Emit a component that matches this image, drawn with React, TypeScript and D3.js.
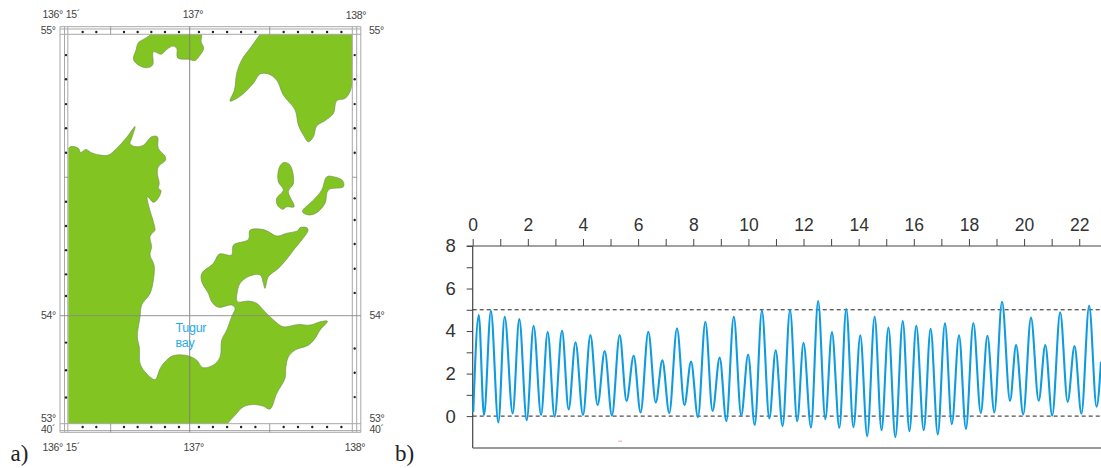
import React, { useEffect, useRef } from "react";
import * as d3 from "d3";

// panel b: turning points of the water level
const hours = [
  0.02, 0.22, 0.41, 0.66, 0.93, 1.16, 1.45, 1.69, 1.96, 2.21, 2.48, 2.72, 2.97, 3.24, 3.48, 3.73, 4.0, 4.27, 4.53, 4.79,
  5.05, 5.33, 5.58, 5.84, 6.09, 6.37, 6.64, 6.88, 7.13, 7.41, 7.68, 7.92, 8.17, 8.44, 8.7, 8.96, 9.2, 9.47, 9.74, 9.99,
  10.23, 10.49, 10.76, 10.99, 11.24, 11.51, 11.77, 12.0, 12.27, 12.53, 12.79, 13.03, 13.3, 13.55, 13.81, 14.06, 14.31,
  14.58, 14.83, 15.08, 15.33, 15.6, 15.84, 16.09, 16.36, 16.61, 16.87, 17.13, 17.38, 17.64, 17.89, 18.16, 18.43, 18.67,
  18.92, 19.2, 19.49, 19.71, 19.97, 20.25, 20.53, 20.77, 21.02, 21.31, 21.58, 21.83, 22.08, 22.36, 22.63, 22.79,
];
const levels = [
  0.2, 4.75, 0.05, 4.95, -0.3, 4.67, 0.12, 4.56, -0.19, 4.25, 0.05, 3.97, -0.03, 4.02, 0.31, 3.47, 0.05, 3.81, 0.52, 3.06,
  0.02, 3.81, 0.71, 2.84, 0.17, 3.97, 0.64, 2.62, 0.14, 4.13, 0.52, 2.56, -0.05, 4.44, 0.24, 2.75, -0.24, 4.67, 0.02, 2.9,
  -0.42, 4.97, -0.11, 3.1, -0.47, 4.99, -0.24, 3.45, -0.53, 5.41, -0.14, 3.95, -0.55, 5.04, -0.52, 3.8, -0.94,
  4.67, -0.66, 4.17, -0.99, 4.47, -0.71, 4.25, -0.66, 4.11, -0.86, 4.36, -0.38, 3.8, -0.6, 4.38, 0.14, 3.78,
  0.17, 5.38, 0.72, 3.34, 0.08, 4.63, 0.72, 3.34, 0.02, 4.88, 0.67, 3.29, 0.11, 5.19, 0.44, 2.56,
];
const hourTicks = d3.range(0, 23);
const levelTicks = d3.range(0, 9);
const dashedLevels = [0, 5];

// panel a: coast outlines as [lon, lat], the points past the sheet edge get clipped off
const northIsland: [number, number][] = [
  [136.76, 55], [136.8, 55.03], [137.05, 55.03], [137.074, 55], [137.07, 54.974], [137.086, 54.95], [137.064, 54.926], [137.033, 54.907], [136.992, 54.911],
  [136.926, 54.916], [136.92, 54.95], [136.895, 54.958], [136.859, 54.946], [136.824, 54.929], [136.777, 54.938],
  [136.772, 54.891], [136.736, 54.881], [136.684, 54.891], [136.654, 54.911], [136.67, 54.944], [136.684, 54.97], [136.736, 54.989],
];
const northEastLand: [number, number][] = [
  [137.433, 55], [137.47, 55.03], [138.03, 55.03], [138.03, 54.9], [138, 54.826], [137.986, 54.796], [137.955, 54.772], [137.904, 54.764], [137.884, 54.719],
  [137.832, 54.693], [137.781, 54.674], [137.761, 54.636], [137.73, 54.618], [137.699, 54.642], [137.668, 54.678],
  [137.648, 54.731], [137.576, 54.784], [137.535, 54.837], [137.484, 54.859], [137.433, 54.859], [137.392, 54.826],
  [137.32, 54.784], [137.269, 54.766], [137.248, 54.763], [137.275, 54.802], [137.289, 54.861], [137.32, 54.909], [137.371, 54.95],
];
const smallIsland: [number, number][] = [
  [137.576, 54.544], [137.607, 54.541], [137.627, 54.524], [137.638, 54.47], [137.607, 54.441], [137.642, 54.387],
  [137.597, 54.387], [137.572, 54.378], [137.539, 54.393], [137.535, 54.417], [137.576, 54.447], [137.545, 54.476], [137.549, 54.524],
];
const eastIsland: [number, number][] = [
  [137.843, 54.494], [137.884, 54.494], [137.941, 54.48], [137.945, 54.458], [137.853, 54.447], [137.832, 54.399],
  [137.781, 54.366], [137.73, 54.358], [137.693, 54.37], [137.761, 54.411], [137.812, 54.447],
];
const mainLand: [number, number][] = [
  [136.27, 54.601], [136.315, 54.595], [136.33, 54.58], [136.362, 54.591], [136.397, 54.579], [136.449, 54.571], [136.5, 54.571],
  [136.551, 54.595], [136.613, 54.634], [136.664, 54.672], [136.643, 54.63], [136.633, 54.612], [136.664, 54.601], [136.715, 54.606],
  [136.766, 54.636], [136.801, 54.636], [136.807, 54.595], [136.848, 54.567], [136.852, 54.553], [136.807, 54.529], [136.801, 54.506],
  [136.813, 54.47], [136.807, 54.453], [136.824, 54.444], [136.801, 54.413], [136.777, 54.403], [136.74, 54.423], [136.752, 54.381],
  [136.777, 54.334], [136.787, 54.304], [136.783, 54.301], [136.756, 54.281], [136.766, 54.245], [136.756, 54.216], [136.781, 54.18],
  [136.777, 54.127], [136.756, 54.079], [136.705, 54.038], [136.695, 53.997], [136.678, 53.935], [136.69, 53.904], [136.695, 53.853],
  [136.725, 53.827], [136.787, 53.803], [136.818, 53.837], [136.848, 53.858], [136.9, 53.877], [136.982, 53.877], [137.043, 53.863],
  [137.08, 53.84], [137.146, 53.848], [137.187, 53.873], [137.197, 53.925], [137.228, 53.956], [137.258, 53.997], [137.279, 54.026],
  [137.258, 54.038], [137.176, 54.03], [137.135, 54.05], [137.115, 54.079], [137.074, 54.121], [137.074, 54.15], [137.146, 54.186],
  [137.182, 54.219], [137.258, 54.216], [137.269, 54.251], [137.361, 54.271], [137.371, 54.304], [137.443, 54.307], [137.484, 54.299],
  [137.535, 54.283], [137.597, 54.293], [137.664, 54.302], [137.679, 54.313], [137.72, 54.313], [137.728, 54.304], [137.689, 54.269],
  [137.638, 54.233], [137.601, 54.204], [137.545, 54.168], [137.484, 54.139], [137.463, 54.097], [137.453, 54.115], [137.433, 54.145],
  [137.361, 54.139], [137.31, 54.115], [137.293, 54.085], [137.293, 54.05], [137.361, 54.052], [137.412, 54.044], [137.453, 54.02],
  [137.515, 53.987], [137.576, 53.966], [137.668, 53.973], [137.74, 53.971], [137.802, 53.981], [137.847, 53.983], [137.802, 53.956],
  [137.771, 53.93], [137.73, 53.909], [137.648, 53.894], [137.607, 53.873], [137.592, 53.843], [137.586, 53.807], [137.535, 53.76],
  [137.494, 53.712], [137.453, 53.721], [137.392, 53.726], [137.33, 53.719], [137.279, 53.693], [137.232, 53.667], [137.2, 53.64],
  [136.23, 53.64], [136.23, 54.4], [136.24, 54.58],
];
const coasts = [mainLand, northIsland, northEastLand, smallIsland, eastIsland];

const lonEdges = [136.25, 137, 138];
const latEdges = [53.667, 54, 55];
const lonMarks = [136.514, 137.492];
const latMarks = [54.492];
const lonDots = [
  136.342, 136.426, 136.596, 136.68, 136.764, 136.848, 136.934, 137.057, 137.143, 137.23, 137.316, 137.404, 137.578, 137.666,
  137.754, 137.845, 137.933,
];
const latDotsLeft = [54.926, 54.84, 54.752, 54.666, 54.579, 54.405, 54.319, 54.233, 54.147, 54.07, 53.917, 53.832, 53.748];
const latDotsRight = [54.926, 54.84, 54.752, 54.666, 54.579, 54.417, 54.34, 54.255, 54.167, 54.081, 53.899, 53.824, 53.749];

const mapFont = "'Liberation Sans', Arial, sans-serif";
const frameColor = "#a8a8a8";

function drawMap(svg: d3.Selection<SVGSVGElement, unknown, null, undefined>) {
  const lonScale = d3.scaleLinear().domain(lonEdges).range([67.7, 189.7, 352.3]);
  const latScale = d3.scaleLinear().domain(latEdges).range([423.7, 315.7, 34.3]);
  const left = lonScale(136.25) + 0.6;
  const right = lonScale(138);
  const top = latScale(55);
  const bottom = latScale(53.667);

  const g = svg.append("g");

  svg.append("clipPath").attr("id", "map-clip").append("rect")
    .attr("x", left).attr("y", top).attr("width", right - left).attr("height", bottom - top);

  const coastLine = d3.line<[number, number]>()
    .x((d) => lonScale(d[0]))
    .y((d) => latScale(d[1]))
    .curve(d3.curveCatmullRomClosed.alpha(0.5));

  g.append("g").attr("clip-path", "url(#map-clip)")
    .selectAll("path").data(coasts).join("path")
    .attr("d", (d) => coastLine(d))
    .attr("fill", "#82c421")
    .attr("stroke", "#6f8f55")
    .attr("stroke-width", 0.6);

  // frame lines
  const hLines = [26.7, 29, top, bottom, 430.6, 432.3];
  const vLines = [60, 64.5, left - 0.5, right, 356.7, 360.8];
  g.selectAll(".h-frame").data(hLines).join("line")
    .attr("class", "h-frame")
    .attr("x1", 60).attr("x2", 360.8)
    .attr("y1", (d) => d).attr("y2", (d) => d)
    .attr("stroke", frameColor).attr("stroke-width", 1);
  g.selectAll(".v-frame").data(vLines).join("line")
    .attr("class", "v-frame")
    .attr("y1", 26.7).attr("y2", 432.3)
    .attr("x1", (d) => d).attr("x2", (d) => d)
    .attr("stroke", frameColor).attr("stroke-width", 1);

  // graticule through 137 and 54
  g.append("line").attr("x1", lonScale(137)).attr("x2", lonScale(137)).attr("y1", 26.7).attr("y2", 432.3)
    .attr("stroke", "#7d7d7d").attr("stroke-width", 0.9);
  g.append("line").attr("x1", 60).attr("x2", 360.8).attr("y1", latScale(54)).attr("y2", latScale(54))
    .attr("stroke", "#8a8a8a").attr("stroke-width", 0.9);

  // half degree marks in the frame
  lonMarks.forEach((lon) => {
    [[26.7, top], [bottom, 432.3]].forEach(([a, b]) => {
      g.append("line").attr("x1", lonScale(lon)).attr("x2", lonScale(lon)).attr("y1", a).attr("y2", b)
        .attr("stroke", "#777").attr("stroke-width", 0.7);
    });
  });
  latMarks.forEach((lat) => {
    [[64.5, left], [right, 356.7]].forEach(([a, b]) => {
      g.append("line").attr("x1", a).attr("x2", b).attr("y1", latScale(lat)).attr("y2", latScale(lat))
        .attr("stroke", "#777").attr("stroke-width", 0.7);
    });
  });

  // minute dots
  const dotColor = "#222";
  [32, 427].forEach((y) => {
    g.append("g").selectAll("circle").data(lonDots).join("circle")
      .attr("cx", (d) => lonScale(d)).attr("cy", y).attr("r", 1.2).attr("fill", dotColor);
  });
  g.append("g").selectAll("circle").data(latDotsLeft).join("circle")
    .attr("cx", 66).attr("cy", (d) => latScale(d)).attr("r", 1.2).attr("fill", dotColor);
  g.append("g").selectAll("circle").data(latDotsRight).join("circle")
    .attr("cx", 354.7).attr("cy", (d) => latScale(d)).attr("r", 1.2).attr("fill", dotColor);

  // corner labels
  const labels: [string, number, number, string?][] = [
    ["136° 15´", 42.5, 17.5, "start"],
    ["137°", 193, 17.5, "middle"],
    ["138°", 356, 18.5, "middle"],
    ["136° 15´", 42.5, 451, "start"],
    ["137°", 193.7, 451, "middle"],
    ["138°", 355, 451, "middle"],
    ["55°", 40.7, 34, "start"],
    ["55°", 369, 34, "start"],
    ["54°", 41, 318.5, "start"],
    ["54°", 369.5, 318.5, "start"],
    ["53°", 41, 421.5, "start"],
    ["53°", 369.5, 421.5, "start"],
    ["40´", 41, 433, "start"],
    ["40´", 369.5, 433, "start"],
  ];
  g.append("g").selectAll("text").data(labels).join("text")
    .attr("x", (d) => d[1]).attr("y", (d) => d[2])
    .attr("text-anchor", (d) => d[3] || "start")
    .attr("font-family", mapFont).attr("font-size", 10.5).attr("letter-spacing", -0.3).attr("fill", "#444")
    .text((d) => d[0]);

  g.append("text").attr("x", 175.5).attr("y", 332).attr("font-family", mapFont).attr("font-size", 12.5)
    .attr("letter-spacing", -0.3).attr("fill", "#29abe2").text("Tugur");
  g.append("text").attr("x", 175.5).attr("y", 346.5).attr("font-family", mapFont).attr("font-size", 12.5)
    .attr("letter-spacing", -0.3).attr("fill", "#29abe2").text("вay");

  g.append("text").attr("x", 10.5).attr("y", 461).attr("font-family", "'Liberation Serif', serif")
    .attr("font-size", 23).attr("fill", "#222").text("a)");
}

function drawLevels(svg: d3.Selection<SVGSVGElement, unknown, null, undefined>) {
  const x = d3.scaleLinear().domain([0, 22.79]).range([472.7, 1101]);
  const y = d3.scaleLinear().domain([-1.5, 8]).range([448, 246]);
  const g = svg.append("g");
  const axisColor = "#444";
  const labelColor = "#333";

  const topAxis = g.append("g").attr("transform", `translate(0,${y(8)})`)
    .call(
      d3.axisTop(x).tickValues(hourTicks).tickSize(7).tickPadding(8)
        .tickFormat((d) => (Number(d) % 2 === 0 ? String(d) : ""))
    );
  topAxis.select(".domain").remove();
  topAxis.selectAll("line").attr("stroke", axisColor);
  topAxis.selectAll("text").attr("font-family", mapFont).attr("font-size", 17.5).attr("fill", labelColor);

  const leftAxis = g.append("g").attr("transform", `translate(${x(0)},0)`)
    .call(
      d3.axisLeft(y).tickValues(levelTicks).tickSize(6).tickPadding(11)
        .tickFormat((d) => (Number(d) % 2 === 0 ? String(d) : ""))
    );
  leftAxis.select(".domain").remove();
  leftAxis.selectAll("line").attr("stroke", axisColor);
  leftAxis.selectAll("text").attr("font-family", mapFont).attr("font-size", 18.5).attr("fill", labelColor);

  g.append("line").attr("x1", x(0) - 6).attr("x2", 1101).attr("y1", y(8)).attr("y2", y(8))
    .attr("stroke", axisColor).attr("stroke-width", 1.2);
  g.append("line").attr("x1", x(0)).attr("x2", x(0)).attr("y1", y(8)).attr("y2", y(-1.5))
    .attr("stroke", axisColor).attr("stroke-width", 1.2);
  g.append("line").attr("x1", x(0)).attr("x2", 1101).attr("y1", y(-1.5)).attr("y2", y(-1.5))
    .attr("stroke", "#777").attr("stroke-width", 1.4);

  g.selectAll(".ref").data(dashedLevels).join("line")
    .attr("class", "ref")
    .attr("x1", x(0)).attr("x2", 1101)
    .attr("y1", (d) => y(d)).attr("y2", (d) => y(d))
    .attr("stroke", "#222").attr("stroke-width", 1).attr("stroke-dasharray", "4 3");

  const curve = d3.line<number>()
    .x((_, i) => x(hours[i]))
    .y((d) => y(d))
    .curve(d3.curveMonotoneX);

  g.append("path").attr("d", curve(levels))
    .attr("fill", "none").attr("stroke", "#0f9be0").attr("stroke-width", 2.1);

  // stray mark in the scan
  g.append("line").attr("x1", x(5.28)).attr("x2", x(5.42)).attr("y1", y(-1.18)).attr("y2", y(-1.18))
    .attr("stroke", "#f2a2a0").attr("stroke-width", 1);

  g.append("text").attr("x", 395).attr("y", 461).attr("font-family", "'Liberation Serif', serif")
    .attr("font-size", 23).attr("fill", "#222").text("b)");
}

export default function App() {
  const ref = useRef<SVGSVGElement>(null);

  useEffect(() => {
    const svg = d3.select(ref.current!);
    svg.selectAll("*").remove();
    drawMap(svg);
    drawLevels(svg);
  }, []);

  return <svg ref={ref} width={1101} height={468} style={{ position: "absolute", left: 0, top: 0, background: "#fff" }} />;
}
